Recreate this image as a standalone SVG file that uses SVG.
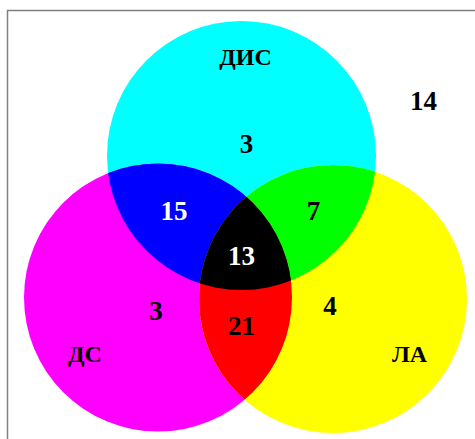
<svg xmlns="http://www.w3.org/2000/svg" width="475" height="439" viewBox="0 0 475 439">
  <style>
    .lbl { font-family: "Liberation Serif", "DejaVu Serif", serif; font-weight: bold; text-anchor: middle; fill: #000; }
    .set { font-size: 24px; }
    .num { font-size: 27px; }
    .wht { fill: #fff; }
  </style>
  <defs>
    <circle id="cDIS" cx="241.5" cy="155.5" r="134.5"/>
    <circle id="cDS" cx="158" cy="297.5" r="134"/>
    <circle id="cLA" cx="333" cy="299" r="134"/>
    <clipPath id="clipDIS"><use href="#cDIS"/></clipPath>
    <clipPath id="clipDS"><use href="#cDS"/></clipPath>
    <clipPath id="clipLA"><use href="#cLA"/></clipPath>
  </defs>

  <rect x="0" y="0" width="475" height="439" fill="#fff"/>
  <!-- frame -->
  <path d="M7.5 439 V10.5 H475" fill="none" stroke="#808080" stroke-width="1.5"/>

  <!-- set circles -->
  <g id="set-dis"><use href="#cDIS" fill="#00ffff"/></g>
  <g id="set-ds"><use href="#cDS" fill="#ff00ff"/></g>
  <g id="set-la"><use href="#cLA" fill="#ffff00"/></g>

  <!-- pairwise overlaps -->
  <g id="dis-ds" clip-path="url(#clipDIS)"><use href="#cDS" fill="#0000ff"/></g>
  <g id="dis-la" clip-path="url(#clipDIS)"><use href="#cLA" fill="#00ff00"/></g>
  <g id="ds-la" clip-path="url(#clipDS)"><use href="#cLA" fill="#ff0000"/></g>
  <!-- triple overlap -->
  <g id="all" clip-path="url(#clipDIS)"><g clip-path="url(#clipDS)"><use href="#cLA" fill="#000"/></g></g>

  <!-- labels -->
  <g id="labels">
    <text class="lbl set" x="245.5" y="65">ДИС</text>
    <text class="lbl set" x="85" y="362">ДС</text>
    <text class="lbl set" x="409.5" y="362">ЛА</text>
    <text class="lbl num" x="423.5" y="110">14</text>
    <text class="lbl num" x="246.5" y="153">3</text>
    <text class="lbl num wht" x="174" y="220">15</text>
    <text class="lbl num" x="313.5" y="220">7</text>
    <text class="lbl num wht" x="241.5" y="265">13</text>
    <text class="lbl num" x="156" y="320">3</text>
    <text class="lbl num" x="241.5" y="335">21</text>
    <text class="lbl num" x="330" y="315">4</text>
  </g>
</svg>
